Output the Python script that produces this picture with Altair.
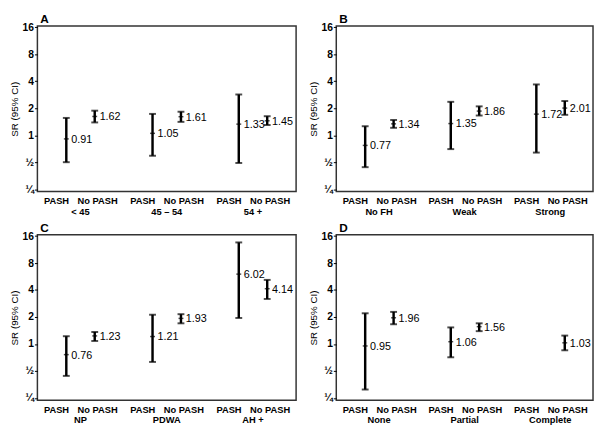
import altair as alt
import pandas as pd

types = ["PASH", "No PASH"]
y_ticks = [0.25, 0.5, 1, 2, 4, 8, 16]

# order per panel: g1 PASH, g1 No PASH, g2 PASH, g2 No PASH, g3 PASH, g3 No PASH
groups_A = ["< 45", "45 – 54", "54 +"]
est_A = [0.91, 1.62, 1.05, 1.61, 1.33, 1.45]
lo_A = [0.50, 1.39, 0.59, 1.41, 0.49, 1.30]
hi_A = [1.56, 1.88, 1.73, 1.83, 2.85, 1.63]

groups_B = ["No FH", "Weak", "Strong"]
est_B = [0.77, 1.34, 1.35, 1.86, 1.72, 2.01]
lo_B = [0.44, 1.21, 0.70, 1.66, 0.64, 1.69]
hi_B = [1.26, 1.48, 2.36, 2.10, 3.69, 2.41]

groups_C = ["NP", "PDWA", "AH +"]
est_C = [0.76, 1.23, 1.21, 1.93, 6.02, 4.14]
lo_C = [0.44, 1.08, 0.63, 1.70, 1.95, 3.18]
hi_C = [1.22, 1.36, 2.12, 2.15, 13.6, 5.19]

groups_D = ["None", "Partial", "Complete"]
est_D = [0.95, 1.96, 1.06, 1.56, None, 1.03]
lo_D = [0.31, 1.66, 0.71, 1.39, None, 0.85]
hi_D = [2.20, 2.28, 1.53, 1.70, None, 1.24]

H = 169
FONT = "Liberation Sans"


def panel(letter, groups, est, lo, hi, w):
    rows = []
    for i, g in enumerate(groups):
        for j, t in enumerate(types):
            k = 2 * i + j
            rows.append(dict(group=g, type=t, est=est[k], lo=lo[k], hi=hi[k]))
    df = pd.DataFrame(rows)

    yscale = alt.Scale(type="log", base=2, domain=[0.235, 16.6], nice=False)
    yaxis = alt.Axis(
        values=y_ticks,
        labelExpr="datum.value == 0.5 ? '½' : (datum.value == 0.25 ? '¼' : format(datum.value, 'd'))",
        title="SR (95% CI)",
        grid=False,
        domain=False,
        tickSize=3,
        tickColor="#000",
        labelFontSize=10.5,
        labelFontWeight="bold",
        labelPadding=1,
        labelColor="#000",
        titleFontSize=10,
        titleFontWeight="normal",
        titlePadding=3,
        titleColor="#000",
    )
    base = alt.Chart(df).encode(
        x=alt.X(
            "group:N",
            sort=groups,
            scale=alt.Scale(paddingInner=0, paddingOuter=0),
            axis=alt.Axis(
                title=None, domain=False, ticks=False, labelAngle=0,
                labelPadding=15, labelFontWeight="bold", labelFontSize=9.5,
                labelColor="#000",
            ),
        ),
        xOffset=alt.XOffset(
            "type:N", sort=types,
            scale=alt.Scale(paddingOuter=0.517, paddingInner=0),
        ),
    )
    valid = base.transform_filter("isValid(datum.est)")
    ci = valid.mark_rule(strokeWidth=2.5, color="#000").encode(
        y=alt.Y("lo:Q", scale=yscale, axis=yaxis), y2="hi:Q"
    )
    cap_lo = valid.mark_tick(size=7, thickness=2, color="#000", orient="horizontal").encode(
        y=alt.Y("lo:Q", scale=yscale)
    )
    cap_hi = valid.mark_tick(size=7, thickness=2, color="#000", orient="horizontal").encode(
        y=alt.Y("hi:Q", scale=yscale)
    )
    mid = valid.mark_tick(size=5, thickness=1.5, color="#000", orient="horizontal").encode(
        y=alt.Y("est:Q", scale=yscale)
    )
    lab = valid.mark_text(align="left", baseline="middle", dx=5, dy=1, fontSize=11, color="#000").encode(
        y=alt.Y("est:Q", scale=yscale), text=alt.Text("est:Q", format=".2f")
    )
    t_pash = base.transform_filter("datum.type == 'PASH'").mark_text(
        baseline="middle", dx=-10, fontSize=9.5, fontWeight="bold", color="#000"
    ).encode(text="type:N", y=alt.value(H + 10))
    t_no = base.transform_filter("datum.type == 'No PASH'").mark_text(
        baseline="middle", dx=3, fontSize=9.5, fontWeight="bold", color="#000"
    ).encode(text="type:N", y=alt.value(H + 10))
    tag = alt.Chart(pd.DataFrame({"letter": [letter]})).mark_text(
        align="left", baseline="alphabetic", fontSize=12, fontWeight="bold", color="#000"
    ).encode(x=alt.value(3), y=alt.value(-3), text="letter:N")

    return alt.layer(ci, cap_lo, cap_hi, mid, lab, t_pash, t_no, tag).properties(
        width=w,
        height=H,
    )


pA = panel("A", groups_A, est_A, lo_A, hi_A, 264)
pB = panel("B", groups_B, est_B, lo_B, hi_B, 262)
pC = panel("C", groups_C, est_C, lo_C, hi_C, 264)
pD = panel("D", groups_D, est_D, lo_D, hi_D, 262)

chart = alt.vconcat(
    alt.hconcat(pA, pB, spacing=10),
    alt.hconcat(pC, pD, spacing=10),
    spacing=4,
).properties(padding=0, background="white").configure(font=FONT).configure_view(
    stroke="#333", strokeWidth=1.5
)

chart.save("out.html", embed_options={"renderer": "svg", "actions": False})
